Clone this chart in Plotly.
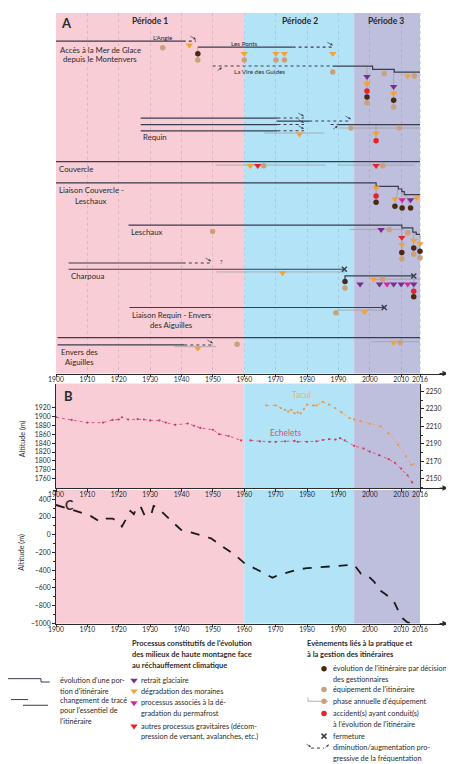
import plotly.graph_objects as go

W, H = 454, 764
ML, MR = 48, 14
PW = W - ML - MR
X_START = 1900
PX_PER_YEAR = 3.138
X_END = X_START + PW / PX_PER_YEAR


def xp(px):
    return (px - ML) / PW


def yp(py):
    return 1 - py / H


FONT = "Lato"
INK = "#2b2b2b"
ROUTE = "#3a3d4e"
THIN = "#9c9c9c"
TAN = "#c9a27c"
BROWN = "#4a2a12"
RED = "#e5232b"
ORANGE = "#f3a233"
PURPLE = "#7b2d8e"
MAGENTA = "#d8279c"

# ---------------- data ----------------
tick_years = [1900, 1910, 1920, 1930, 1940, 1950, 1960, 1970, 1980, 1990, 2000, 2010, 2016]
period_labels = ["Période 1", "Période 2", "Période 3"]
period_start = [1900, 1960, 1995]
period_end = [1960, 1995, 2016]
period_colors = ["#f8cdd5", "#b3e3f7", "#bebedd"]

# Panel B : glacier surface altitude (m)
echelets_year = [1900, 1905, 1910, 1915, 1918, 1920, 1921, 1923, 1926, 1928, 1930, 1933, 1935, 1938,
                 1942, 1944, 1946, 1950, 1952, 1955, 1959, None,
                 1962, 1965, 1968, 1970, 1973, 1976, 1977, 1980, 1983, 1985, 1987, 1989, 1990.5,
                 1992, 1995, 1998, 2000, 2003, 2006, 2008, 2010, 2012, 2013.5]
echelets_alt = [1898, 1892, 1886, 1886, 1892, 1893, 1898, 1893, 1894, 1893, 1891, 1891, 1886, 1881,
                1884, 1879, 1874, 1870, 1860, 1856, 1846, None,
                1846, 1844, 1843, 1843, 1844, 1845, 1843, 1843, 1844, 1847, 1849, 1848, 1851,
                1846, 1834, 1828, 1821, 1813, 1804, 1796, 1783, 1768, 1752]
tacul_year = [1967, 1970, 1971.7, 1973, 1974, 1975, 1976, 1977, 1978, 1979, 1980, 1982, 1983, 1985,
              1987, 1989, 1991, 1993.5, 1995, 1997, 2000, 2003.5, 2006, 2009, 2011.5, 2013.2, 2014]
tacul_alt = [2234, 2234, 2231, 2229, 2227, 2229, 2225, 2226, 2225, 2230, 2235, 2234, 2234, 2238,
             2235, 2231, 2226, 2219.5, 2218, 2216, 2213, 2210, 2202, 2189, 2176, 2166, 2167]
b_left_ticks = [1760, 1780, 1800, 1820, 1840, 1860, 1880, 1900, 1920]
b_right_ticks = [2150, 2170, 2190, 2210, 2230, 2250]

# Panel C : glacier front variation (m)
front_year = [1900, 1904, 1908, 1911, 1914, 1916, 1918, 1920, 1921, 1922.6, 1923.7, 1924.8, 1925.8,
              1927, 1928.2, 1930.3, 1931.1, 1932.4, 1935.6, 1939.8, 1943, 1946, 1949.4, 1952.6, 1957,
              1960, 1967.5, 1969, 1970.6, 1974, 1977, 1980, 1985.5, 1991, 1995, 1997.2, 1999.3,
              2001.5, 2002.5, 2004.7, 2006.2, 2007.5, 2009, 2010.5, 2012, 2013.6]
front_alt = [336, 295, 250, 213, 146, 183, 183, 146, 93, 194, 269, 232, 317,
             317, 221, 221, 325, 303, 194, 56, 26, -3, -41, -123, -227,
             -320, -459, -485, -459, -422, -392, -377, -366, -347, -339, -440, -459,
             -534, -608, -664, -702, -739, -851, -944, -989, -1000]
c_ticks = [-1000, -800, -600, -400, -200, 0, 200, 400]

# Panel A : itineraries (x = year, y = row level in the panel)
route_solid_x = [
    [1900, 1940.4], [1945.2, 1975.4],
    [1988.2, 2000.9, 2000.9, 2007.8, 2007.8, 2016],
    [1927, 1970.6], [1970.3, 1980.7], [1927, 1970.6], [1989.8, 2016], [1927, 1970.6],
    [1900, 2016],
    [1900, 2002, 2002, 2009.1, 2009.1, 2010.2, 2010.2, 2011, 2011, 2016],
    [1923.1, 2010.2, 2010.2, 2013.7, 2013.7, 2014.8, 2014.8, 2016],
    [1904, 1940.4], [1904, 1991.9], [1992.1, 1992.1, 2014],
    [1923.4, 2004.6],
    [1900.5, 2016], [1900.5, 1940.9],
]
route_solid_y = [
    [33.3, 33.3], [39.3, 39.3],
    [58.3, 58.3, 61.7, 61.7, 64.3, 64.3],
    [110.5, 110.5], [113.5, 113.5], [117, 117], [117, 117], [123.3, 123.3],
    [154.3, 154.3],
    [175.5, 175.5, 179, 179, 181.7, 181.7, 184.3, 184.3, 187.3, 187.3],
    [218, 218, 220.7, 220.7, 225, 225, 227.3, 227.3],
    [256, 256], [262.3, 262.3], [273, 269, 269],
    [300.7, 300.7],
    [331, 331], [338.3, 338.3],
]
route_dot_x0 = [1940.4, 1975.4, 1949.9, 1970.6, 1980.7, 1970.6, 1987.5, 1970.6, 1940.4, 1940.9]
route_dot_x1 = [1944.6, 1988.2, 1988.2, 1979.0, 1994.0, 1979.0, 1989.8, 1979.0, 1949.4, 1950.0]
route_dot_y = [33.3, 39.3, 58.3, 110.5, 113.5, 117, 117, 123.3, 256, 338.3]
route_dot_trend = ["down", "down", "up", "down", "down", "down", "up", "down", "down", "down"]

closure_x = [1991.9, 2014, 2004.6]
closure_y = [262.3, 269, 300.7]

phase_x0 = [1950.9, 1989.8, 1966.4, 1990.3, 1993.5, 1951, 2001, 1989.8, 1937.7, 2000.4]
phase_x1 = [1986.0, 2014.2, 1985.5, 2015.8, 2011.0, 1992, 2016, 2004.0, 1951.0, 2016.0]
phase_y = [157.7, 157.7, 125.5, 120.5, 222.3, 265, 272.3, 303.3, 340, 335]

link_x = [[1945.2, 1945.2], [1999.1, 1999.1], [2007.6, 2007.6], [2002, 2002], [2002, 2002],
          [2009.1, 2008], [2010.2, 2010.3], [2011, 2013], [2010.2, 2010.2], [2014, 2014],
          [2016, 2016], [2014, 2014]]
link_y = [[39.3, 52], [58.3, 95], [61.7, 99], [117, 133], [179, 195],
          [179, 199], [181.7, 200.7], [184.3, 200.7], [220.7, 251], [225, 247],
          [227.3, 250], [269, 290]]

equip_x = [1934, 1945.2, 1960, 1970.1, 1972.8, 1988.2, 2004.6, 2014.2, 1999.1, 2007.6, 1994, 2009.4,
           1966.2, 2004.1, 1949.9, 2006.2, 2012.1, 2010.2, 2014, 2016, 1992.1, 2004.1, 1989.2,
           1957.7, 2009.7]
equip_y = [40, 52.3, 52.3, 52.3, 52.3, 64.3, 65.7, 68.3, 95, 99.3, 120.5, 120.5,
           158.3, 158.3, 224.3, 222.5, 225.7, 251.7, 247.3, 250.7, 281, 272.3, 306,
           337.7, 335.7]
decision_x = [1945.2, 1999.1, 2007.6, 2002, 2008, 2010.3, 2013, 2010.2, 2014, 2016, 1992.1, 2014]
decision_y = [46, 89.3, 92.7, 195, 199, 200.7, 200.7, 245.5, 241, 244.3, 274.7, 290]
accident_x = [1999.1, 2002, 2002, 2014]
accident_y = [83.3, 133.3, 188.7, 284.3]

moraine_x = [1942.5, 1960, 1970.1, 1972.8, 1988.2, 2012.1, 1999.1, 2007.6, 1977.6, 2002, 1961.9, 2002,
             2008, 2015, 2010.2, 2014, 2016, 1972.2, 2001.2, 1998.3, 1945.2, 2007.6]
moraine_y = [37.3, 45.7, 45.7, 45.7, 45.7, 68.3, 76, 85.7, 126.7, 126, 158.3, 180.7,
             191.7, 190.7, 237.5, 233.3, 236.7, 266, 272.3, 305, 341.7, 335.7]
retreat_x = [1999.1, 2007.6, 2013, 2003.6, 1996.9, 2003.1, 2007.6, 2010, 2014]
retreat_y = [69, 79, 192.7, 222.5, 277.3, 277.3, 277.3, 277.3, 277.3]
permafrost_x = [2010.3, 2005.5, 2012.1]
permafrost_y = [192.7, 277.3, 277.3]
gravity_x = [1964.3, 2002, 2010.2]
gravity_y = [158.3, 158.3, 230.5]


def joined(xs_list, ys_list):
    X, Y = [], []
    for xs, ys in zip(xs_list, ys_list):
        X += list(xs) + [None]
        Y += list(ys) + [None]
    return X, Y


fig = go.Figure()

# ---- panel A traces ----
sx, sy = joined(route_solid_x, route_solid_y)
px_, py_ = joined([[a, b] for a, b in zip(phase_x0, phase_x1)], [[y, y] for y in phase_y])
lx, ly = joined(link_x, link_y)
dx, dy = joined([[a, b] for a, b in zip(route_dot_x0, route_dot_x1)], [[y, y] for y in route_dot_y])

fig.add_trace(go.Scatter(x=px_, y=py_, mode="lines", line=dict(color=THIN, width=0.7), xaxis="x", yaxis="y"))
fig.add_trace(go.Scatter(x=lx, y=ly, mode="lines", line=dict(color=THIN, width=0.7), xaxis="x", yaxis="y"))
fig.add_trace(go.Scatter(x=sx, y=sy, mode="lines", line=dict(color=ROUTE, width=1.2), xaxis="x", yaxis="y"))
fig.add_trace(go.Scatter(x=dx, y=dy, mode="lines", line=dict(color=ROUTE, width=1.1, dash="dot"),
                         xaxis="x", yaxis="y"))
fig.add_trace(go.Scatter(x=closure_x, y=closure_y, mode="markers",
                         marker=dict(symbol="x-thin", size=5, line=dict(color=ROUTE, width=1.5)),
                         xaxis="x", yaxis="y"))


def pts(xs, ys, symbol, color, size):
    fig.add_trace(go.Scatter(x=xs, y=ys, mode="markers",
                             marker=dict(symbol=symbol, size=size, color=color, line=dict(width=0)),
                             xaxis="x", yaxis="y"))


pts(equip_x, equip_y, "circle", TAN, 5.5)
pts(decision_x, decision_y, "circle", BROWN, 5.5)
pts(accident_x, accident_y, "circle", RED, 5.5)
pts(moraine_x, moraine_y, "triangle-down", ORANGE, 6.5)
pts(retreat_x, retreat_y, "triangle-down", PURPLE, 6.5)
pts(permafrost_x, permafrost_y, "triangle-down", MAGENTA, 6.5)
pts(gravity_x, gravity_y, "triangle-down", RED, 6.5)

# ---- panel B ----
fig.add_trace(go.Scatter(x=echelets_year, y=echelets_alt, mode="lines+markers",
                         line=dict(color="#d9506f", width=0.9, dash="dot"),
                         marker=dict(size=2.2, color="#c83c60"), xaxis="x2", yaxis="y2"))
fig.add_trace(go.Scatter(x=tacul_year, y=tacul_alt, mode="lines+markers",
                         line=dict(color="#eda75a", width=0.9, dash="dot"),
                         marker=dict(size=2.2, color="#e3974a"), xaxis="x2", yaxis="y3"))

# ---- panel C ----
fig.add_trace(go.Scatter(x=front_year, y=front_alt, mode="lines",
                         line=dict(color="#1a1a1a", width=1.8, dash="dash"), xaxis="x3", yaxis="y4"))

# ---- legend symbols (legend axis in pixel units) ----
fig.add_trace(go.Scatter(x=[126, 126, 126, 126], y=[675, 685.7, 697.7, 721], mode="markers",
                         marker=dict(symbol="triangle-down", size=6.5, color=[PURPLE, ORANGE, MAGENTA, RED]),
                         xaxis="x4", yaxis="y5", cliponaxis=False))
fig.add_trace(go.Scatter(x=[300, 300, None, 300, 320], y=[692.5, 696, None, 696, 696], mode="lines",
                         line=dict(color=THIN, width=0.8), xaxis="x4", yaxis="y5", cliponaxis=False))
fig.add_trace(go.Scatter(x=[316, 316, 316, 316], y=[663.3, 684.3, 696, 708.3], mode="markers",
                         marker=dict(symbol="circle", size=5.5, color=[BROWN, TAN, TAN, RED]),
                         xaxis="x4", yaxis="y5", cliponaxis=False))
fig.add_trace(go.Scatter(x=[316], y=[731], mode="markers",
                         marker=dict(symbol="x-thin", size=5, line=dict(color=ROUTE, width=1.5)),
                         xaxis="x4", yaxis="y5", cliponaxis=False))
fig.add_trace(go.Scatter(x=[303, 316], y=[743, 743], mode="lines",
                         line=dict(color=ROUTE, width=1, dash="dot"), xaxis="x4", yaxis="y5", cliponaxis=False))

# ---------------- shapes ----------------
shapes = []
panels = [(5, 367), (377, 482), (484, 618)]
for top, bot in panels:
    for s, e, c in zip(period_start, period_end, period_colors):
        shapes.append(dict(type="rect", xref="x", yref="paper", x0=s, x1=e, y0=yp(bot), y1=yp(top),
                           fillcolor=c, line=dict(width=0), layer="below"))
# legend line symbols
shapes.append(dict(type="path", xref="paper", yref="paper", layer="above",
                   path=f"M {xp(0)},{yp(673.3)} L {xp(33)},{yp(673.3)} L {xp(33)},{yp(676.7)} L {xp(41.7)},{yp(676.7)}",
                   line=dict(color=ROUTE, width=1)))
shapes.append(dict(type="line", xref="paper", yref="paper", x0=xp(3), x1=xp(20), y0=yp(694.3), y1=yp(694.3),
                   line=dict(color=ROUTE, width=1)))
shapes.append(dict(type="line", xref="paper", yref="paper", x0=xp(15), x1=xp(40), y0=yp(700), y1=yp(700),
                   line=dict(color=ROUTE, width=1)))

# ---------------- annotations ----------------
ann = []


def txt(s, x, y, size=7.5, anchor="left", color=INK, bold=False, angle=0):
    ann.append(dict(text=f"<b>{s}</b>" if bold else s, x=xp(x), y=yp(y), xref="paper", yref="paper",
                    xanchor=anchor, yanchor="middle", showarrow=False, textangle=angle,
                    font=dict(family=FONT, size=size, color=color)))


txt("A", 58, 15, 13, "center", bold=True)
txt("B", 60, 389.5, 13, "center", bold=True)
txt("C", 61, 499, 12.5, "center", bold=True)
period_center_px = [141.7, 291.7, 378.3]
for lab, cx in zip(period_labels, period_center_px):
    txt(lab, cx, 13, 8.5, "center", bold=True)

txt("L'Angle", 155, 29.3, 6.3, "center")
txt("Les Ponts", 236.7, 35.5, 6.3, "center")
txt("La Vire des Guides", 251.7, 64, 6.3, "center")
txt("Accès à la Mer de Glace", 92, 41.7, 7.8, "center")
txt("depuis le Montenvers", 92, 51.7, 7.8, "center")
txt("Requin", 133, 129.3, 7.8)
txt("Couvercle", 48.5, 161.3, 7.8)
txt("Liaison Couvercle -", 83, 182.7, 7.8, "center")
txt("Leschaux", 83, 193.3, 7.8, "center")
txt("Leschaux", 120.7, 225, 7.8)
txt("Charpoua", 61, 269, 7.8)
txt("?", 209.5, 255, 5.5)
txt("Liaison Requin - Envers", 163.5, 308.3, 7.8, "center")
txt("des Aiguilles", 163.5, 318.5, 7.8, "center")
txt("Envers des", 71, 345, 7.8, "center")
txt("Aiguilles", 71, 355.7, 7.8, "center")

txt("Tacul", 293.3, 389, 8.5, "center", color="#ecb06c")
txt("Echelets", 277.7, 426.7, 8.5, "center", color="#d9506f")
txt("Altitude (m)", 14, 433, 7.2, "center", angle=-90)
txt("Altitude (m)", 441, 431, 7.2, "center", angle=-90)
txt("Altitude (m)", 14, 547, 7.2, "center", angle=-90)

# legend texts
txt("Processus constitutifs de l'évolution", 122.3, 638.3, 7.5, bold=True)
txt("des milieux de haute montagne face", 122.3, 649, 7.5, bold=True)
txt("au réchauffement climatique", 122.3, 660, 7.5, bold=True)
txt("retrait glaciaire", 130.7, 675, 7.3)
txt("dégradation des moraines", 130.7, 685.7, 7.3)
txt("processus associés à la dé-", 130.7, 697.7, 7.3)
txt("gradation du permafrost", 130.7, 708.3, 7.3)
txt("autres processus gravitaires (décom-", 130.7, 721, 7.3)
txt("pression de versant, avalanches, etc.)", 130.7, 731.7, 7.3)

txt("Evènements liés à la pratique et", 297.3, 638.3, 7.5, bold=True)
txt("à la gestion des itinéraires", 297.3, 649.3, 7.5, bold=True)
txt("évolution de l'itinéraire par décision", 322.7, 663.3, 7.3)
txt("des gestionnaires", 322.7, 674.3, 7.3)
txt("équipement de l'itinéraire", 322.7, 684.3, 7.3)
txt("phase annuelle d'équipement", 322.7, 696, 7.3)
txt("accident(s) ayant conduit(s)", 322.7, 708.3, 7.3)
txt("à l'évolution de l'itinéraire", 322.7, 719, 7.3)
txt("fermeture", 322.7, 731, 7.3)
txt("diminution/augmentation pro-", 322.7, 742.7, 7.3)
txt("gressive de la fréquentation", 322.7, 753.7, 7.3)

txt("évolution d'une por-", 50, 675, 7.3)
txt("tion d'itinéraire", 50, 685.7, 7.3)
txt("changement de tracé", 50, 695, 7.3)
txt("pour l'essentiel de", 50, 705.7, 7.3)
txt("l'itinéraire", 50, 716.7, 7.3)

# frequency arrows on dotted segments
for x0, x1, y, tr in zip(route_dot_x0, route_dot_x1, route_dot_y, route_dot_trend):
    if tr == "down":
        ann.append(dict(x=x1, y=y - 1.8, xref="x", yref="y", ax=-7, ay=-4, text="", showarrow=True,
                        arrowhead=2, arrowsize=0.7, arrowwidth=0.7, arrowcolor=ROUTE))
    else:
        ann.append(dict(x=min(x0 + 3, x1), y=y + 1.5, xref="x", yref="y", ax=-6, ay=4, text="",
                        showarrow=True, arrowhead=2, arrowsize=0.7, arrowwidth=0.7, arrowcolor=ROUTE))
# legend arrows
ann.append(dict(x=xp(303), y=yp(742), xref="paper", yref="paper", ax=-6, ay=-4, text="", showarrow=True,
                arrowhead=2, arrowsize=0.7, arrowwidth=0.7, arrowcolor=ROUTE))
ann.append(dict(x=xp(321), y=yp(739.5), xref="paper", yref="paper", ax=-5, ay=4, text="", showarrow=True,
                arrowhead=2, arrowsize=0.7, arrowwidth=0.7, arrowcolor=ROUTE))
# axis arrowheads
for ypx in [367, 482, 618]:
    ann.append(dict(x=X_END, y=yp(ypx), xref="x", yref="paper", ax=-10, ay=0, text="", showarrow=True,
                    arrowhead=2, arrowsize=1.1, arrowwidth=1, arrowcolor=INK))

tickfont = dict(family=FONT, size=6.8, color=INK)
xcommon = dict(domain=[0, 1], range=[X_START, X_END], tickvals=tick_years, ticks="outside", ticklen=2.5,
               tickwidth=0.8, tickcolor=INK, showline=True, linecolor=INK, linewidth=1, tickfont=tickfont,
               zeroline=False, fixedrange=True, ticklabelstandoff=-3)

fig.update_layout(
    width=W, height=H, margin=dict(l=ML, r=MR, t=0, b=0),
    paper_bgcolor="white", plot_bgcolor="rgba(0,0,0,0)",
    showlegend=False, hovermode=False,
    font=dict(family=FONT, color=INK),
    xaxis=dict(**xcommon, anchor="y", showgrid=True, gridcolor="rgba(120,110,140,0.22)",
               griddash="dot", gridwidth=0.7),
    yaxis=dict(domain=[yp(367), yp(5)], range=[367, 5], visible=False, fixedrange=True),
    xaxis2=dict(**xcommon, anchor="y2", showgrid=False),
    yaxis2=dict(domain=[yp(482), yp(377)], range=[1739.2, 1973.6], anchor="x2", tickvals=b_left_ticks,
                ticks="outside", ticklen=3, tickcolor=INK, showline=True, linecolor=INK, linewidth=1,
                tickfont=tickfont, showgrid=False, zeroline=False),
    yaxis3=dict(overlaying="y2", anchor="free", position=xp(412.3), side="right",
                range=[2139.4, 2259.1], tickvals=b_right_ticks, ticks="outside", ticklen=3, tickcolor=INK,
                minor=dict(tick0=2150, dtick=10, ticks="outside", ticklen=2, tickcolor=INK),
                showline=True, linecolor=INK, linewidth=1, tickfont=tickfont, showgrid=False,
                zeroline=False),
    xaxis3=dict(**xcommon, anchor="y4", showgrid=False),
    yaxis4=dict(domain=[yp(618), yp(484)], range=[-1003, 504], anchor="x3", tickvals=c_ticks,
                ticks="outside", ticklen=3, tickcolor=INK,
                minor=dict(tick0=-1000, dtick=100, ticks="outside", ticklen=2, tickcolor=INK),
                showline=True, linecolor=INK, linewidth=1, tickfont=tickfont, showgrid=False,
                zeroline=False),
    xaxis4=dict(domain=[0, 1], range=[ML, W - MR], anchor="y5", visible=False),
    yaxis5=dict(domain=[0, yp(634)], range=[H, 634], anchor="x4", visible=False),
    shapes=shapes,
    annotations=ann,
)

fig.write_html("out.html")
